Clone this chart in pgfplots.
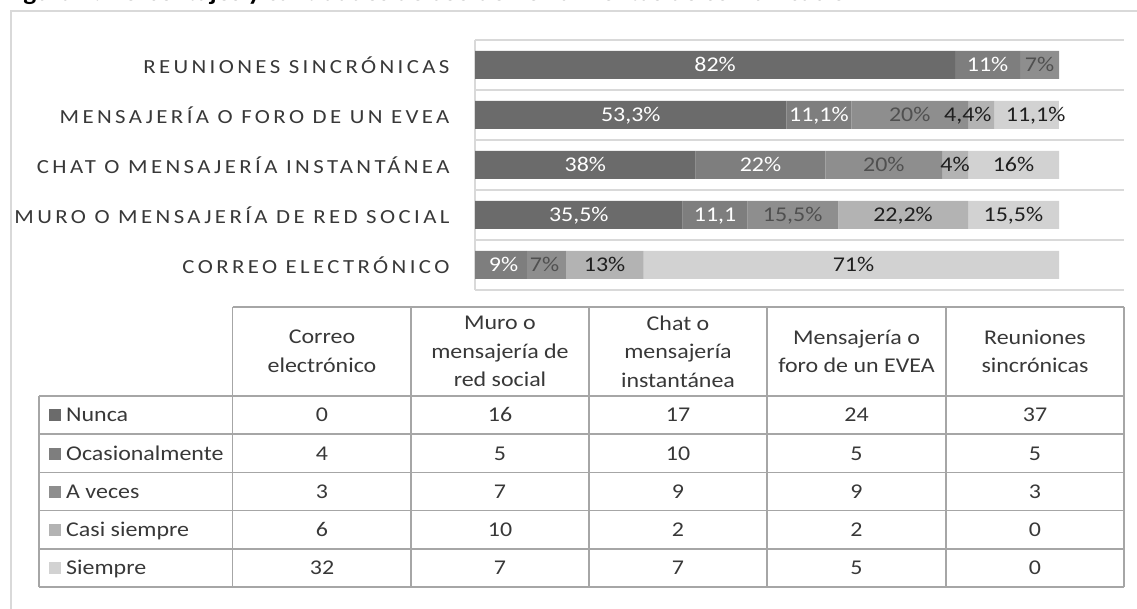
\documentclass[border=0pt]{standalone}
\usepackage{fontspec}
\setmainfont{Carlito}[FakeStretch=1.14]
\newfontfamily\catfont{Carlito}[FakeStretch=1.14, LetterSpace=17]
\usepackage{pgfplots}
\pgfplotsset{compat=1.18}
\usepackage{pgfplotstable}

\definecolor{cN}{HTML}{6B6B6B}
\definecolor{cO}{HTML}{7E7E7E}
\definecolor{cA}{HTML}{8E8E8E}
\definecolor{cC}{HTML}{B3B3B3}
\definecolor{cS}{HTML}{D2D2D2}
\definecolor{gridc}{HTML}{D9D9D9}
\definecolor{tgrid}{HTML}{A6A6A6}
\definecolor{txt}{HTML}{383838}
\definecolor{lblA}{HTML}{505050}
\definecolor{lblK}{HTML}{1F1F1F}

% shares in percent (y: 0 Correo, 1 Muro, 2 Chat, 3 Mensajeria EVEA, 4 Reuniones)
\pgfplotstableread{
y N O A C S
0 0 8.89 6.67 13.33 71.11
1 35.56 11.11 15.56 22.22 15.56
2 37.78 22.22 20.00 4.44 15.56
3 53.33 11.11 20.00 4.44 11.11
4 82.22 11.11 6.67 0 0
}\shares

\pgfplotstableread{
x y label
41.11 4 82\%
87.78 4 11\%
26.67 3 53,3\%
58.89 3 11,1\%
18.89 2 38\%
48.89 2 22\%
17.78 1 35,5\%
41.11 1 11,1
4.9 0 9\%
}\labW

\pgfplotstableread{
x y label
96.67 4 7\%
74.44 3 20\%
70.0 2 20\%
54.4 1 15,5\%
11.9 0 7\%
}\labA

\pgfplotstableread{
x y label
84.4 3 4,4\%
96.0 3 11,1\%
82.2 2 4\%
92.2 2 16\%
73.3 1 22,2\%
92.2 1 15,5\%
22.2 0 13\%
64.8 0 71\%
}\labK

\pgfplotsset{geom/.style={
  at={(475pt,-290pt)}, anchor=south west,
  scale only axis, width=649pt, height=250pt,
  xmin=0, xmax=111.13, ymin=-0.5, ymax=4.5}}

\begin{document}
\begin{tikzpicture}
\begin{scope}
\clip (0,0) rectangle (1137pt,-609pt);
% cut title
\node[anchor=base west, inner sep=0, font=\bfseries\fontsize{24}{28}\selectfont, text=black] at (4pt,-0.5pt) {Figura 2. Porcentajes y cantidades de uso de herramientas de comunicación};
% outer frame
\draw[gridc, line width=2.5pt] (11pt,-640pt) -- (11pt,-11pt) -- (1160pt,-11pt);

\begin{axis}[geom,
  xbar stacked, bar width=28pt,
  axis x line=none, axis y line*=left,
  y axis line style={gridc, line width=1.5pt, -},
  ytick={0,...,4},
  yticklabels={CORREO ELECTRÓNICO, MURO O MENSAJERÍA DE RED SOCIAL, CHAT O MENSAJERÍA INSTANTÁNEA, MENSAJERÍA O FORO DE UN EVEA, REUNIONES SINCRÓNICAS},
  major tick length=0pt, minor tick length=0pt,
  minor ytick={-0.5,0.5,...,4.5},
  yminorgrids=true,
  minor grid style={gridc, line width=1.5pt},
  yticklabel style={font=\catfont\fontsize{20}{24}\selectfont, text=txt, anchor=east, xshift=-22pt},
  clip=false,
]
\addplot[fill=cN, draw=none] table[x=N, y=y]{\shares};
\addplot[fill=cO, draw=none] table[x=O, y=y]{\shares};
\addplot[fill=cA, draw=none] table[x=A, y=y]{\shares};
\addplot[fill=cC, draw=none] table[x=C, y=y]{\shares};
\addplot[fill=cS, draw=none] table[x=S, y=y]{\shares};
\end{axis}

\begin{axis}[geom, hide axis, clip=false]
\addplot[only marks, mark=none, nodes near coords, point meta=explicit symbolic,
  every node near coord/.append style={anchor=base, yshift=-6.8pt, inner sep=0pt, text=white, font=\fontsize{21}{25}\selectfont}]
  table[x=x, y=y, meta=label]{\labW};
\addplot[only marks, mark=none, nodes near coords, point meta=explicit symbolic,
  every node near coord/.append style={anchor=base, yshift=-6.8pt, inner sep=0pt, text=lblA, font=\fontsize{21}{25}\selectfont}]
  table[x=x, y=y, meta=label]{\labA};
\addplot[only marks, mark=none, nodes near coords, point meta=explicit symbolic,
  every node near coord/.append style={anchor=base, yshift=-6.8pt, inner sep=0pt, text=lblK, font=\fontsize{21}{25}\selectfont}]
  table[x=x, y=y, meta=label]{\labK};
\end{axis}

% data table
\begin{scope}[tgrid, line width=1.3pt]
\draw (232.7pt,-307pt) -- (1124pt,-307pt);
\foreach \yy in {396,434,472.5,510.7,549,587}{\draw (39pt,-\yy pt) -- (1124pt,-\yy pt);}
\draw (39pt,-396pt) -- (39pt,-587pt);
\foreach \xx in {232.7,411,589,767,946,1124}{\draw (\xx pt,-307pt) -- (\xx pt,-587pt);}
\end{scope}
\begin{scope}[every node/.style={align=center, text=txt, font=\fontsize{21}{28.5}\selectfont, inner sep=0pt}]
\node at (322pt,-351.5pt) {Correo\\electrónico};
\node at (500pt,-351.5pt) {Muro o\\mensajería de\\red social};
\node at (678pt,-351.5pt) {Chat o\\mensajería\\instantánea};
\node at (856.5pt,-351.5pt) {Mensajería o\\foro de un EVEA};
\node at (1035pt,-351.5pt) {Reuniones\\sincrónicas};
\end{scope}
\begin{scope}[every node/.style={anchor=base, text=txt, font=\fontsize{21}{25}\selectfont, inner sep=0pt}]
\foreach \yc/\nm/\col/\a/\b/\c/\d/\e in {
  415/Nunca/cN/0/16/17/24/37,
  453.5/Ocasionalmente/cO/4/5/10/5/5,
  491.5/A veces/cA/3/7/9/9/3,
  530/Casi siempre/cC/6/10/2/2/0,
  568/Siempre/cS/32/7/7/5/0}{
  \fill[\col] (49pt,-\yc pt+6pt) rectangle (61pt,-\yc pt-6pt);
  \node[anchor=base west] at (66pt,-\yc pt-6.8pt) {\nm};
  \node at (322pt,-\yc pt-6.8pt) {\a};
  \node at (500pt,-\yc pt-6.8pt) {\b};
  \node at (678pt,-\yc pt-6.8pt) {\c};
  \node at (856.5pt,-\yc pt-6.8pt) {\d};
  \node at (1035pt,-\yc pt-6.8pt) {\e};
}
\end{scope}
\end{scope}
\pgfresetboundingbox
\useasboundingbox (0,0) rectangle (1137pt,-609pt);
\end{tikzpicture}
\end{document}
